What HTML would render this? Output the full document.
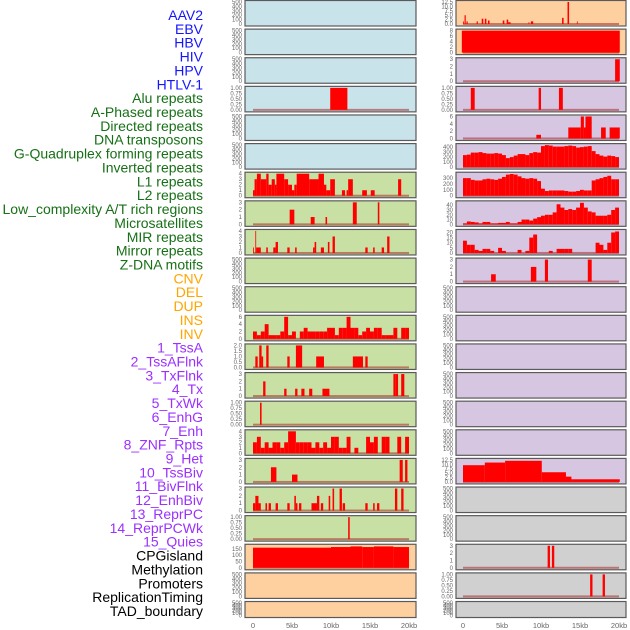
<!DOCTYPE html>
<html><head><meta charset="utf-8"><style>
html,body{margin:0;padding:0;background:#fff;}
svg{display:block;font-family:"Liberation Sans",sans-serif;}
</style></head><body>
<svg id="chart" width="630" height="630" viewBox="0 0 630 630" xmlns="http://www.w3.org/2000/svg"></svg>
<script>
// ---- data ----
const trackLabels = ["AAV2","EBV","HBV","HIV","HPV","HTLV-1","Alu repeats","A-Phased repeats","Directed repeats","DNA transposons","G-Quadruplex forming repeats","Inverted repeats","L1 repeats","L2 repeats","Low_complexity A/T rich regions","Microsatellites","MIR repeats","Mirror repeats","Z-DNA motifs","CNV","DEL","DUP","INS","INV","1_TssA","2_TssAFlnk","3_TxFlnk","4_Tx","5_TxWk","6_EnhG","7_Enh","8_ZNF_Rpts","9_Het","10_TssBiv","11_BivFlnk","12_EnhBiv","13_ReprPC","14_ReprPCWk","15_Quies","CPGisland","Methylation","Promoters","ReplicationTiming","TAD_boundary"];
const labelGroups = ["virus","virus","virus","virus","virus","virus","repeat","repeat","repeat","repeat","repeat","repeat","repeat","repeat","repeat","repeat","repeat","repeat","repeat","sv","sv","sv","sv","sv","chrom","chrom","chrom","chrom","chrom","chrom","chrom","chrom","chrom","chrom","chrom","chrom","chrom","chrom","chrom","other","other","other","other","other"];
const xTicks = [0,5,10,15,20];
const xTickLabels = ["0","5kb","10kb","15kb","20kb"];
const emptyTicks = [0,100,200,300,400,500];

// left column segments [startKb, endKb, value]
const L3 = [[9.9,12.1,1]];
const L6 = [[0,0.2,1],[0.2,0.5,3],[0.5,1,4],[1,1.7,3],[1.7,2,4],[2,2.4,2],[2.4,2.8,3],[2.8,3,2],[3,4,4],[4,4.5,3],[4.5,5,2],[5,5.3,1],[5.3,5.6,2],[5.6,7.2,4],[7.2,8.4,3],[8.4,9.1,4],[9.1,9.4,2],[9.4,9.9,1],[9.9,10.5,3],[11.4,11.8,1],[12,12.2,1],[12.2,12.8,3],[14,14.6,1],[15.1,15.6,1],[18.6,19,3]];
const L7 = [[4.7,5.3,2],[7.4,7.9,1],[9.3,9.5,1],[12.8,13.3,3],[16,16.2,3]];
const L8 = [[0,0.1,1],[0.3,0.4,4],[0.4,1,1],[1.7,1.9,1],[2.6,2.9,1],[2.9,3.2,2],[4.4,4.7,1],[5.4,5.6,1],[7.7,7.9,1],[7.9,8.1,2],[8.7,9.1,1],[9.6,9.8,2],[10.2,10.5,3],[14.4,14.7,1],[15.4,15.6,1],[16.5,16.8,1],[17.2,17.5,3]];
const L11bins = [2,1,2,4,1,1,1,2,6,1,2,0,2,3,2,2,2,2,2,3,3,1,3,3,6,3,3,1,2,3,2,3,3,1,1,1,3,0,3,3];
const L12 = [[0.3,0.6,1],[0.8,1.1,2],[1.1,1.3,1],[1.7,2,2],[4.4,4.7,1],[5.5,6.3,2],[8.1,9.1,1],[12.8,14.1,1],[14.4,14.7,1]];
const L13 = [[1.3,1.6,2],[4,4.3,1],[5.4,5.7,1],[6.2,6.6,1],[7.2,7.6,1],[8.9,9.8,1],[18,18.3,3],[18.3,18.6,3],[19,19.4,3]];
const L14 = [[0.9,1.1,1]];
const L15bins = [2,3,1,2,1,2,2,1,2,4,4,2,2,2,2,1,2,1,2,1,3,3,1,1,3,0,1,0,0,3,2,3,0,3,3,0,0,3,0,3];
const L16 = [[2.3,3,2],[5,5.7,1],[18.8,19.2,3],[19.5,19.8,3]];
const L17 = [[0,0.3,1],[0.3,0.7,2],[0.7,1,1],[1.6,1.8,1],[2,2.3,1],[2.9,3.2,1],[4.4,4.7,1],[5.3,5.5,2],[5.5,5.7,1],[5.9,6.2,1],[7.5,8.2,1],[8.2,8.5,2],[8.7,9,1],[9.7,9.9,2],[10.2,10.4,3],[11.1,11.4,3],[11.5,11.8,1],[14.4,14.7,1],[15.4,15.6,1],[15.9,16.2,1],[18.2,18.5,3],[19,19.3,3]];
const L18 = [[12.2,12.4,1]];
const L19 = [[0,10,160],[10,12.5,165],[12.5,14,170],[14,15.5,165],[15.5,18,170],[18,20,165]];

// right column
const R0 = [[0,0.1,1.5],[0.2,0.35,5],[0.45,0.6,1.5],[1.75,1.9,1.5],[2.4,2.6,3],[2.8,3,3],[3.2,3.4,2],[5.1,5.3,2],[5.6,5.8,2.5],[5.8,6.1,1],[8.4,8.5,1],[8.7,9,1.5],[12.7,12.9,3.5],[13.4,13.6,12.5],[14.6,14.7,1.5]];
const R1 = [[-0.15,20.1,8]];
const R2 = [[19.5,20.1,3]];
const R3 = [[1,1.5,1],[9.7,10,1],[12.3,12.8,1]];
const R4 = [[9.4,10,1],[13.5,15.1,3],[15.1,15.5,6],[15.5,15.7,3],[15.7,16.5,6],[17.7,18.3,3],[18.8,20.1,3]];
const R5bins = [240,250,290,290,300,280,270,270,280,270,240,180,200,230,260,260,240,280,300,290,420,440,430,410,410,410,420,430,420,390,400,410,420,320,260,230,210,230,220,200];
const R6bins = [300,300,270,260,260,280,290,280,270,290,320,360,370,360,330,300,290,300,290,250,120,80,90,90,90,90,80,70,70,80,100,90,90,260,280,300,320,340,280,280];
const R7bins = [2,6,5,4,2,5,5,2,2,3,3,5,2,2,5,10,10,8,12,15,18,20,20,25,42,35,30,32,30,35,45,35,27,25,18,18,18,20,30,35];
const R8bins = [12,8,8,3,2,4,4,2,0,5,2,0,0,0,3,0,2,15,18,0,0,0,2,0,4,4,4,4,0,0,0,0,0,0,10,8,3,10,20,21];
const R9 = [[3.6,4.2,1],[8.7,9.4,2],[10.5,10.9,3],[16,16.5,3]];
const R16 = [[0,2.8,9.5],[2.8,5.4,11],[5.4,10.1,12],[10.1,13.2,5.5],[13.2,13.9,3],[13.9,20.1,1.5]];
const R19 = [[10.85,11.15,3],[11.4,11.7,3]];
const R20 = [[16.3,16.6,1],[17.9,18.2,1]];

// ---- rendering ----
const NS = "http://www.w3.org/2000/svg";
const svg = document.getElementById("chart");
const BG = {blue:"#c9e3eb", green:"#c8e0a3", orange:"#ffd09f", purple:"#d6c6e1", gray:"#d0d0d0"};
const COLORS = {virus:"#1515ff", repeat:"#167016", sv:"#ffa500", chrom:"#9b30ff", other:"#000000"};
const ROWH = 28.62;
function mk(tag, attrs){const e=document.createElementNS(NS,tag);for(const k in attrs)e.setAttribute(k,attrs[k]);svg.appendChild(e);return e;}
function fmt(v, ticks){
  const dec = ticks.some(t=>Math.abs(t-Math.round(t))>1e-9) ? (ticks.some(t=>Math.abs(t*10-Math.round(t*10))>1e-9)?2:1) : 0;
  return v.toFixed(dec);
}
function binsToSegs(bins){ return bins.map((v,i)=>[i*0.5,(i+1)*0.5,v]); }

function panel(col,row,bgKey,ymax,ticks,segs,name){
  const px = col===0?245:456, pw = col===0?171:170;
  const top = row*ROWH + 0.5, h = row===21?16:25.5;
  const x0 = col===0?253:463;
  const xs = kb => x0 + kb*7.8;
  const yb = top+h-2, yt = top+1.5;
  const ys = v => yb - (v/ymax)*(yb-yt);
  const g = mk("g",{});
  
  
  const bg = mk("rect",{x:px,y:top,width:pw,height:h,fill:BG[bgKey],stroke:"#5a5a5a","stroke-width":1.2});
  
  
  if(segs){
    const bl = mk("rect",{x:xs(0),y:ys(0)-1,width:xs(20)-xs(0),height:2,fill:"rgba(170,40,40,0.55)"});
    
    
    segs.forEach((s,i)=>{
      if(s[2]<=0) return;
      const r = mk("rect",{x:xs(s[0]),y:ys(s[2]),width:Math.max(0.8,xs(s[1])-xs(s[0])),height:ys(0)-ys(s[2]),fill:"#ff0000"});
      
      
    });
  }
  ticks.forEach(t=>{
    const tx = mk("text",{x:px-3,y:ys(t)+2,"font-size":6,fill:"#666","text-anchor":"end"});
    tx.textContent = fmt(t,ticks);
    
    
  });
}

// labels
trackLabels.forEach((lab,i)=>{
  const t = mk("text",{x:203,y:15+i*13.86+5,"font-size":14,fill:COLORS[labelGroups[i]],"text-anchor":"end"});
  t.textContent = lab;
  
  
});

const leftBg = ["blue","blue","blue","blue","blue","blue","green","green","green","green","green","green","green","green","green","green","green","green","green","orange","orange","orange"];
const rightBg = ["orange","orange","purple","purple","purple","purple","purple","purple","purple","purple","purple","purple","purple","purple","purple","purple","purple","gray","gray","gray","gray","gray"];
const q = [0,0.25,0.5,0.75,1];
const leftDefs = {
  3:[1,q,L3], 6:[4,[0,1,2,3,4],L6], 7:[3,[0,1,2,3],L7], 8:[4,[0,1,2,3,4],L8],
  11:[6,[0,2,4,6],binsToSegs(L11bins)], 12:[2,[0,0.5,1,1.5,2],L12], 13:[3,[0,1,2,3],L13],
  14:[1,q,L14], 15:[4,[0,1,2,3,4],binsToSegs(L15bins)], 16:[3,[0,1,2,3],L16],
  17:[3,[0,1,2,3],L17], 18:[1,q,L18], 19:[175,[0,50,100,150],L19]
};
const rightDefs = {
  0:[12.5,[0,2.5,5,7.5,10,12.5],R0], 1:[8,[0,2,4,6,8],R1], 2:[3,[0,1,2,3],R2], 3:[1,q,R3],
  4:[6,[0,2,4,6],R4], 5:[440,[0,100,200,300,400],binsToSegs(R5bins)],
  6:[375,[0,100,200,300],binsToSegs(R6bins)], 7:[46,[0,10,20,30,40],binsToSegs(R7bins)],
  8:[21.5,[0,5,10,15,20],binsToSegs(R8bins)], 9:[3,[0,1,2,3],R9],
  16:[12.5,[0,2.5,5,7.5,10,12.5],R16], 19:[3,[0,1,2,3],R19], 20:[1,q,R20]
};
for(let r=0;r<22;r++){
  const d = leftDefs[r];
  if(d) panel(0,r,leftBg[r],d[0],d[1],d[2],'left-panel-'+r);
  else panel(0,r,leftBg[r],500,emptyTicks,null,'left-panel-'+r);
  const e = rightDefs[r];
  if(e) panel(1,r,rightBg[r],e[0],e[1],e[2],'right-panel-'+r);
  else panel(1,r,rightBg[r],500,emptyTicks,null,'right-panel-'+r);
}
[253,463].forEach((x0,c)=>{
  xTicks.forEach((kb,i)=>{
    const t = mk("text",{x:x0+kb*7.8,y:628,"font-size":7.5,fill:"#666","text-anchor":"middle"});
    t.textContent = xTickLabels[i];
    
    
  });
});
</script>
</body></html>
